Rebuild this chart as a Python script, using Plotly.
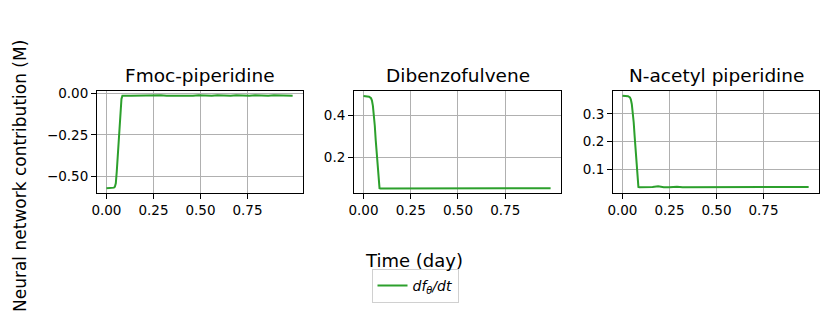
import plotly.graph_objects as go
from plotly.subplots import make_subplots

# time grid (day)
time = [0, 0.01, 0.02, 0.03, 0.04, 0.045, 0.05, 0.055, 0.06, 0.065, 0.07,
        0.075, 0.08, 0.085, 0.09, 0.1, 0.13, 0.16, 0.19, 0.22, 0.25, 0.29,
        0.32, 0.36, 0.39, 0.42, 0.46, 0.49, 0.53, 0.56, 0.59, 0.63, 0.66,
        0.69, 0.73, 0.76, 0.79, 0.83, 0.86, 0.89, 0.93, 0.96, 0.99]

# neural network contribution per species (M)
fmoc_pip = [-0.570, -0.570, -0.570, -0.569, -0.566, -0.560, -0.540, -0.470,
            -0.370, -0.270, -0.180, -0.100, -0.035, -0.016, -0.015, -0.016,
            -0.017, -0.016, -0.014, -0.017, -0.016, -0.014, -0.016, -0.017,
            -0.014, -0.016, -0.017, -0.014, -0.016, -0.017, -0.014, -0.016,
            -0.017, -0.014, -0.016, -0.017, -0.014, -0.016, -0.017, -0.014,
            -0.016, -0.017, -0.016]
dbf = [0.492, 0.492, 0.491, 0.489, 0.482, 0.470, 0.445, 0.410, 0.350,
       0.280, 0.210, 0.140, 0.070, 0.052, 0.051, 0.051, 0.050, 0.051,
       0.052, 0.051, 0.051, 0.052, 0.051, 0.051, 0.052, 0.051, 0.051,
       0.052, 0.051, 0.051, 0.052, 0.051, 0.051, 0.052, 0.051, 0.051,
       0.052, 0.051, 0.051, 0.052, 0.051, 0.051, 0.052]
nap = [0.366, 0.366, 0.365, 0.364, 0.360, 0.352, 0.335, 0.310, 0.270,
       0.220, 0.170, 0.110, 0.060, 0.036, 0.035, 0.035, 0.035, 0.036,
       0.038, 0.035, 0.035, 0.037, 0.035, 0.035, 0.037, 0.035, 0.035,
       0.037, 0.035, 0.035, 0.037, 0.035, 0.035, 0.037, 0.035, 0.035,
       0.037, 0.035, 0.035, 0.037, 0.035, 0.035, 0.036]

titles = ["Fmoc-piperidine", "Dibenzofulvene", "N-acetyl piperidine"]
series = [fmoc_pip, dbf, nap]
x_ticks = [0, 0.25, 0.5, 0.75]
y_ticks = [[-0.5, -0.25, 0.0], [0.2, 0.4], [0.1, 0.2, 0.3]]
y_fmt = [".2f", ".1f", ".1f"]
y_ranges = [[-0.598, 0.012], [0.029, 0.516], [0.014, 0.383]]

W, H = 830, 322
x_dom = [[97, 303], [354, 561], [613, 819]]
y_dom = [1 - 193 / H, 1 - 91 / H]

fig = make_subplots(rows=1, cols=3)

for i, ys in enumerate(series):
    fig.add_trace(
        go.Scatter(
            x=time,
            y=ys,
            mode="lines",
            name="<i>df<sub>θ</sub>/dt</i>",
            line=dict(color="#2ca02c", width=2),
            showlegend=(i == 0),
        ),
        row=1,
        col=i + 1,
    )
    fig.update_xaxes(
        domain=[x_dom[i][0] / W, x_dom[i][1] / W],
        range=[-0.05, 1.045],
        tickvals=x_ticks,
        tickformat=".2f",
        row=1,
        col=i + 1,
    )
    fig.update_yaxes(
        domain=y_dom,
        range=y_ranges[i],
        tickvals=y_ticks[i],
        tickformat=y_fmt[i],
        row=1,
        col=i + 1,
    )
    fig.add_annotation(
        text=titles[i],
        x=(x_dom[i][0] + x_dom[i][1]) / 2 / W,
        y=1 - 75 / H,
        xref="paper",
        yref="paper",
        xanchor="center",
        yanchor="middle",
        showarrow=False,
        font=dict(size=18.5, color="black"),
    )

axis_style = dict(
    showline=True,
    linecolor="black",
    linewidth=1,
    mirror=True,
    ticks="outside",
    ticklen=5,
    tickcolor="black",
    showgrid=True,
    gridcolor="#b0b0b0",
    gridwidth=1,
    zeroline=False,
    automargin=False,
    tickfont=dict(size=13.5, color="black"),
)
fig.update_xaxes(**axis_style)
fig.update_yaxes(**axis_style)

fig.add_annotation(
    text="Neural network contribution (M)",
    x=20 / W,
    y=1 - 176 / H,
    xref="paper",
    yref="paper",
    xanchor="center",
    yanchor="middle",
    textangle=-90,
    showarrow=False,
    font=dict(size=17, color="black"),
)
fig.add_annotation(
    text="Time (day)",
    x=414 / W,
    y=1 - 260 / H,
    xref="paper",
    yref="paper",
    xanchor="center",
    yanchor="middle",
    showarrow=False,
    font=dict(size=18, color="black"),
)

fig.update_layout(
    width=W,
    height=H,
    margin=dict(l=0, r=0, t=0, b=0, autoexpand=False),
    plot_bgcolor="white",
    paper_bgcolor="white",
    font=dict(family="DejaVu Sans", color="black"),
    legend=dict(
        x=415 / W,
        xanchor="center",
        y=1 - 269 / H,
        yanchor="top",
        bordercolor="#d0d0d0",
        borderwidth=1,
        itemwidth=30,
        font=dict(size=14),
    ),
)

fig.write_html(
    "out.html",
    config={"displayModeBar": False},
    post_script="document.body.style.margin = '0';",
)
